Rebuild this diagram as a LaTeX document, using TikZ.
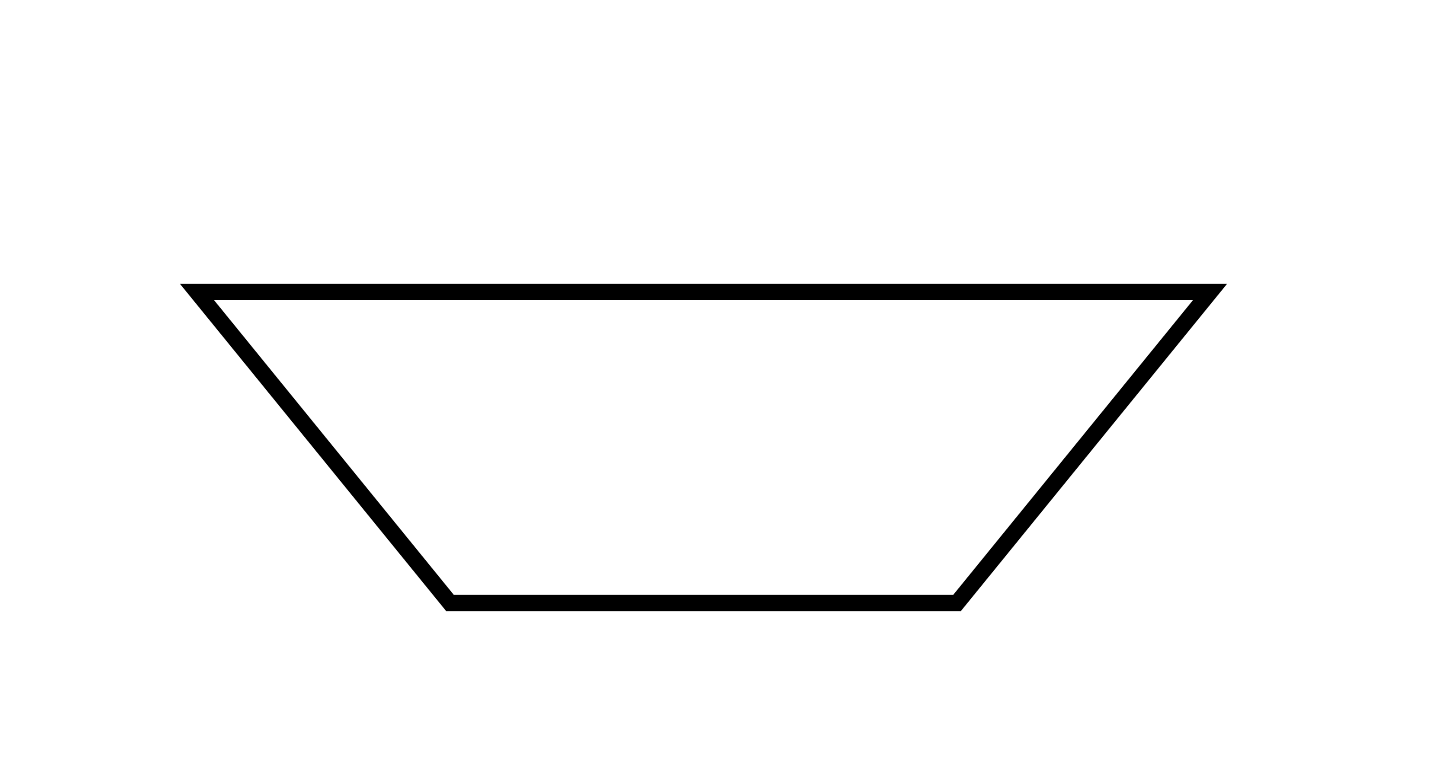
\documentclass[tikz,border=0pt]{standalone}
\begin{document}
\begin{tikzpicture}[x=0.01cm,y=-0.01cm,
  shapeline/.style={draw=black,line width=0.16cm,line join=miter}]
\useasboundingbox (0,0) rectangle (1440,780);
\coordinate (tl) at (197,292);
\coordinate (tr) at (1210,292);
\coordinate (br) at (957,603);
\coordinate (bl) at (450,603);
\draw[shapeline] (tl) -- (tr) -- (br) -- (bl) -- cycle;
\end{tikzpicture}
\end{document}
